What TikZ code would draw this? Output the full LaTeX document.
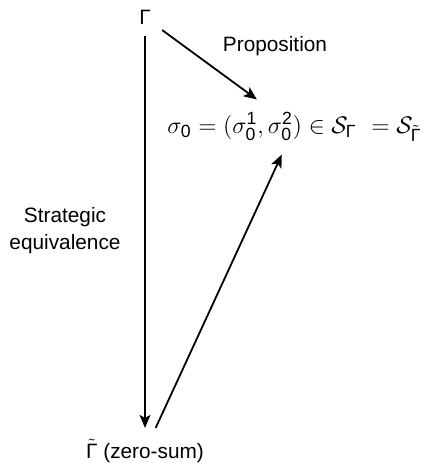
\documentclass[tikz,border=0pt]{standalone}
\usepackage{amsmath}
\usepackage{fontspec}
\setmainfont{Liberation Sans}
\setsansfont{Liberation Sans}
\usetikzlibrary{arrows.meta}
\newcommand\sd[1]{\text{#1}}
\begin{document}
\begin{tikzpicture}[x=0.5pt,y=-0.5pt,
  font=\fontsize{10.4pt}{13.5pt}\selectfont,
  every node/.style={inner sep=5.5pt},
  formula/.style={inner xsep=4pt, inner ysep=6.3pt, font=\fontsize{12.6pt}{15pt}\selectfont},
  plain/.style={inner sep=0pt, align=center},
  arr/.style={-{Stealth[length=6.5pt,width=5.5pt,inset=1.5pt]}, line width=0.9pt}]
\useasboundingbox (0,0) rectangle (427,465);
\node (G) at (145,17.5) {Γ};
\node[formula] (F) at (294.5,127)
  {$\sigma_{\sd{0}} = (\sigma_{\sd{0}}^{\sd{1}}, \sigma_{\sd{0}}^{\sd{2}}) \in \mathcal{S}_{\sd{Γ}}\hspace{4pt} = \mathcal{S}_{\tilde{\sd{Γ}}}$};
\node (Gt) at (145,451) {$\tilde{\text{Γ}}$ (zero-sum)};
\node[plain] (prop) at (275,46) {Proposition};
\node[plain] (se) at (65,231) {Strategic\\equivalence};
\draw[arr] (G) -- (F);
\draw[arr] (G) -- (Gt);
\draw[arr] (Gt) -- (F);
\end{tikzpicture}
\end{document}
